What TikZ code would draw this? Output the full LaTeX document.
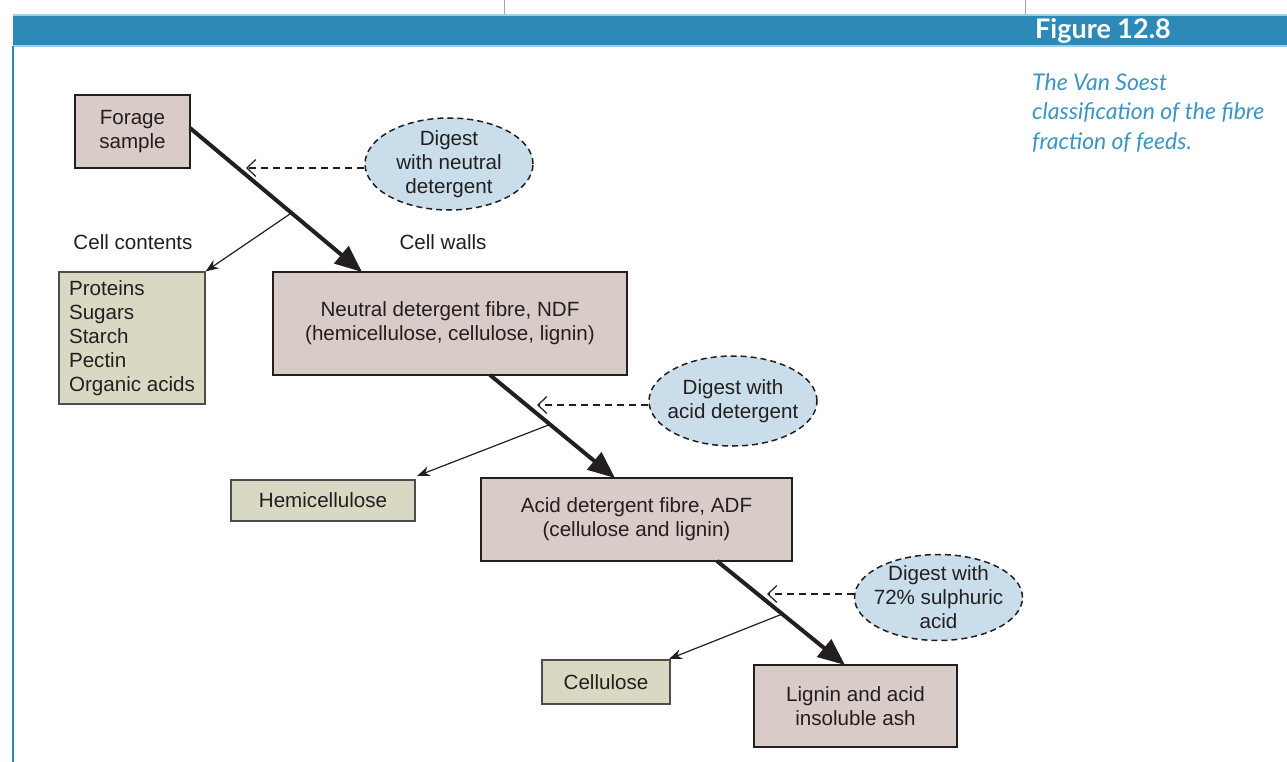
\documentclass[tikz,border=0pt]{standalone}
\usepackage{fontspec}
\setmainfont{Liberation Sans}
\newfontfamily\capfont{Lato}
\usetikzlibrary{arrows.meta,shapes.geometric,calc}
\definecolor{barblue}{HTML}{2D89B7}
\definecolor{barlight}{HTML}{A5CDE0}
\definecolor{capblue}{HTML}{3B95C4}
\definecolor{pinkbox}{HTML}{D9CBC7}
\definecolor{greenbox}{HTML}{D9D8C2}
\definecolor{ellblue}{HTML}{CADDEB}
\definecolor{ink}{HTML}{231F20}
\tikzset{
  txt/.style={font=\fontsize{20.6}{24}\selectfont, text=ink},
  pinkrect/.style={txt, draw=ink, line width=1.8pt, fill=pinkbox, align=center, inner sep=0pt},
  greenrect/.style={txt, draw=ink!80, line width=1.2pt, fill=greenbox, inner sep=0pt},
  digest/.style={txt, ellipse, draw=ink, dashed, dash pattern=on 6pt off 4pt, line width=1.5pt, fill=ellblue, align=center, inner sep=-12pt},
  mainflow/.style={draw=ink, line width=4pt, -{Triangle[length=27pt,width=22pt]}},
  branch/.style={draw=ink, line width=1.2pt, -{Stealth[length=13pt,width=10pt]}},
  reagent/.style={draw=ink, line width=1.2pt, dashed, dash pattern=on 7pt off 5pt, -{Straight Barb[length=9pt,width=17pt,line width=1.2pt]}},
  lbl/.style={txt, inner sep=0pt}
}
\begin{document}
\begin{tikzpicture}[x=1pt,y=-1pt]
\useasboundingbox (0,0) rectangle (1287,762);
\fill[white] (0,0) rectangle (1287,762);
% page furniture
\draw[gray!70, line width=1pt] (504,0) -- (504,15);
\draw[gray!70, line width=1pt] (1025,0) -- (1025,15);
\fill[barblue] (13,15) rectangle (1287,46);
\draw[barlight, line width=1.5pt] (13,15) -- (1287,15);
\draw[barlight, line width=1.5pt] (13,46) -- (1287,46);
\draw[barblue, line width=2pt] (13,46) -- (13,762);
\node[anchor=west, inner sep=0pt, text=white, font=\capfont\bfseries\fontsize{27}{30}\selectfont] (fig) at (1035,31) {Figure 12.8};
\node[anchor=north west, inner sep=0pt, text=capblue, align=left, font=\capfont\itshape\fontsize{23}{29.5}\selectfont] (cap) at (1032,73)
  {The Van Soest\\classification of the fibre\\fraction of feeds.};

% nodes
\node[pinkrect, minimum width=115pt, minimum height=73pt] (forage) at (132.5,131.5) {Forage\\sample};
\node[digest, minimum width=168pt, minimum height=92pt] (e1) at (449,164) {Digest\\with neutral\\detergent};
\node[lbl] (cc) at (133,242) {Cell contents};
\node[lbl] (cw) at (443,242) {Cell walls};
\node[greenrect, align=left, minimum width=146pt, minimum height=132pt] (contents) at (132,338)
  {Proteins\\Sugars\\Starch\\Pectin\\Organic acids};
\node[pinkrect, minimum width=354pt, minimum height=103pt] (ndf) at (450,323.5) {Neutral detergent fibre, NDF\\(hemicellulose, cellulose, lignin)};
\node[digest, minimum width=168pt, minimum height=90pt] (e2) at (733,401) {Digest with\\acid detergent};
\node[greenrect, minimum width=184pt, minimum height=41pt] (hemi) at (323,500.5) {Hemicellulose};
\node[pinkrect, minimum width=311pt, minimum height=83pt] (adf) at (636.5,519.5) {Acid detergent fibre, ADF\\(cellulose and lignin)};
\node[digest, minimum width=168pt, minimum height=86pt] (e3) at (938.5,597.5) {Digest with\\72\% sulphuric\\acid};
\node[greenrect, minimum width=128pt, minimum height=44pt] (cellu) at (606,682) {Cellulose};
\node[pinkrect, minimum width=203pt, minimum height=82pt] (lignin) at (855.5,706) {Lignin and acid\\insoluble ash};

% connector end points
\coordinate (s1) at (190,128);
\coordinate (t1) at (362,272);
\coordinate (s2) at (490,375);
\coordinate (t2) at (615,478);
\coordinate (s3) at (717,561);
\coordinate (t3) at (845,665);
\coordinate (d1) at (246,168);
\coordinate (d2) at (537,405);
\coordinate (d3) at (767,594);
\coordinate (b1) at ($(s1)!0.59!(t1)$);
\coordinate (b2) at ($(s2)!0.48!(t2)$);
\coordinate (b3) at ($(s3)!0.51!(t3)$);
\coordinate (h2) at (417,476);
\coordinate (h3) at (669,659);

% main flow
\draw[mainflow] (s1) -- (t1);
\draw[mainflow] (s2) -- (t2);
\draw[mainflow] (s3) -- (t3);
% branches
\draw[branch] (b1) -- (contents.north east);
\draw[branch] (b2) -- (h2);
\draw[branch] (b3) -- (h3);
% reagents
\draw[reagent] (e1.west |- d1) -- (d1);
\draw[reagent] (e2.west |- d2) -- (d2);
\draw[reagent] (e3.west |- d3) -- (d3);
\end{tikzpicture}
\end{document}
